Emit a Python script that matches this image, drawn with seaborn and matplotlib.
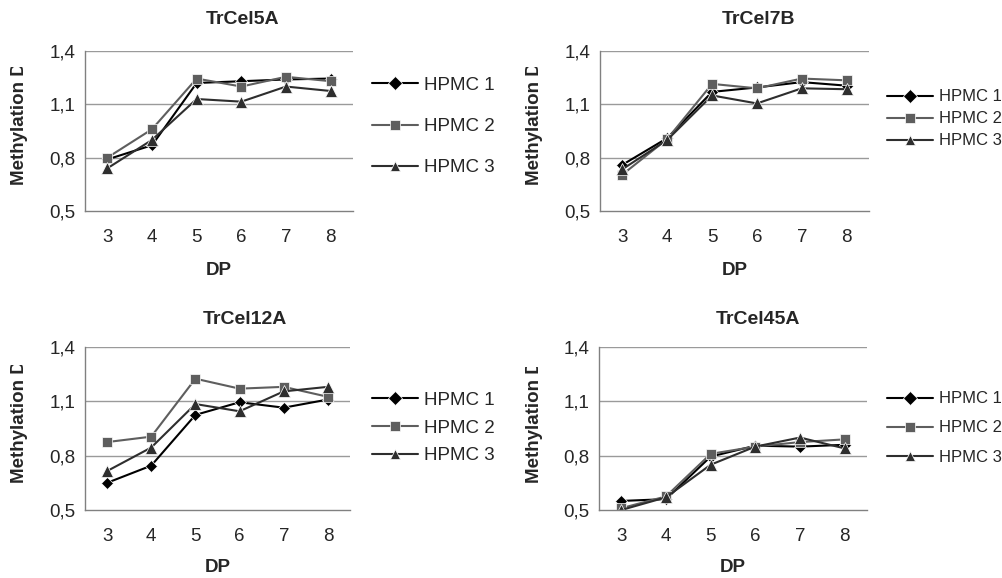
import matplotlib
matplotlib.use("Agg")
import matplotlib.pyplot as plt
import seaborn as sns
import pandas as pd
from matplotlib.transforms import Bbox
from matplotlib.ticker import FixedLocator, FuncFormatter

# ---- data ----
dp = [3, 4, 5, 6, 7, 8]
series_names = ["HPMC 1", "HPMC 2", "HPMC 3"]
panel_titles = ["TrCel5A", "TrCel7B", "TrCel12A", "TrCel45A"]

cel5a_hpmc1 = [0.79, 0.87, 1.22, 1.23, 1.24, 1.245]
cel5a_hpmc2 = [0.80, 0.96, 1.245, 1.20, 1.255, 1.23]
cel5a_hpmc3 = [0.74, 0.90, 1.13, 1.115, 1.20, 1.175]

cel7b_hpmc1 = [0.76, 0.91, 1.17, 1.195, 1.225, 1.205]
cel7b_hpmc2 = [0.705, 0.905, 1.215, 1.19, 1.245, 1.235]
cel7b_hpmc3 = [0.735, 0.90, 1.15, 1.105, 1.19, 1.185]

cel12a_hpmc1 = [0.65, 0.745, 1.025, 1.095, 1.065, 1.11]
cel12a_hpmc2 = [0.875, 0.905, 1.225, 1.17, 1.18, 1.125]
cel12a_hpmc3 = [0.715, 0.845, 1.085, 1.045, 1.155, 1.18]

cel45a_hpmc1 = [0.55, 0.56, 0.795, 0.855, 0.85, 0.86]
cel45a_hpmc2 = [0.51, 0.575, 0.81, 0.85, 0.875, 0.89]
cel45a_hpmc3 = [0.50, 0.57, 0.75, 0.85, 0.90, 0.84]

y_ticks = [0.5, 0.8, 1.1, 1.4]

panels = [
    [cel5a_hpmc1, cel5a_hpmc2, cel5a_hpmc3],
    [cel7b_hpmc1, cel7b_hpmc2, cel7b_hpmc3],
    [cel12a_hpmc1, cel12a_hpmc2, cel12a_hpmc3],
    [cel45a_hpmc1, cel45a_hpmc2, cel45a_hpmc3],
]

# ---- style ----
sns.set_style("white")
plt.rcParams["font.family"] = ["Liberation Sans", "DejaVu Sans"]

W, H = 1003, 578
fig = plt.figure(figsize=(W / 100, H / 100), dpi=100)

def fx(px):
    return px / W

def fy(py):
    return 1 - py / H

# axes boxes in pixels: left, right, top, bottom
boxes = [(85, 353, 51, 211), (600, 869, 51, 211), (85, 350, 347, 510), (599, 867, 347, 510)]
title_pos = [(243, 19), (759, 19), (245, 319), (758, 319)]
ylab_pos = [(20, 185, 67), (535, 185, 67), (20, 483, 365), (535, 483, 367)]
xlab_pos = [(219, 270), (735, 270), (218, 567), (733, 567)]
# handle x, centre y, label spacing, font size, handle length
leg_pos = [(372, 126.5, 1.29, 13.5, 2.45), (887, 119, 0.42, 12, 2.75),
           (372, 428, 0.57, 13.5, 2.45), (887, 428, 0.85, 12, 2.75)]

palette = {"HPMC 1": "#000000", "HPMC 2": "#5e5e5e", "HPMC 3": "#2e2e2e"}
markers = {"HPMC 1": "D", "HPMC 2": "s", "HPMC 3": "^"}
grid_c = "#9a9a9a"

for i, vals in enumerate(panels):
    l, r, t, b = boxes[i]
    ax = fig.add_axes([fx(l), fy(b), fx(r - l), (b - t) / H])
    rows = []
    for name, v in zip(series_names, vals):
        for d, y in zip(dp, v):
            rows.append({"DP": d, "value": y, "series": name})
    df = pd.DataFrame(rows)
    sns.lineplot(data=df, x="DP", y="value", hue="series", style="series",
                 markers=markers, dashes=False, palette=palette, ax=ax,
                 linewidth=1.5, markersize=7.5, markeredgewidth=0.5)
    for ln in ax.get_lines():
        if ln.get_marker() == "D":
            ln.set_markersize(6)
        elif ln.get_marker() == "^":
            ln.set_markersize(8.5)
    ax.set_xlim(2.5, 8.5)
    ax.set_ylim(0.5, 1.4)
    ax.set_xticks(dp)
    ax.xaxis.set_minor_locator(FixedLocator([2.5 + k for k in range(7)]))
    ax.tick_params(axis="x", which="major", length=0, pad=13, labelsize=13.5)
    ax.tick_params(axis="x", which="minor", length=4, color="#707070", width=1)
    ax.set_yticks(y_ticks)
    ax.yaxis.set_major_formatter(FuncFormatter(lambda v, p: f"{v:.1f}".replace(".", ",")))
    ax.tick_params(axis="y", length=4, color="#707070", width=1, labelsize=13.5, pad=3)
    for yv in y_ticks[1:]:
        ax.axhline(yv, color=grid_c, lw=1, zorder=0)
    for s in ["top", "right"]:
        ax.spines[s].set_visible(False)
    for s in ["left", "bottom"]:
        ax.spines[s].set_color("#808080")
        ax.spines[s].set_linewidth(1)
    ax.set_xlabel("")
    ax.set_ylabel("")

    # legend
    lx, ly, sp, fs, hl = leg_pos[i]
    sns.move_legend(ax, "center left", bbox_to_anchor=(fx(lx), fy(ly)),
                    bbox_transform=fig.transFigure, frameon=False, title=None,
                    fontsize=fs, handlelength=hl, handletextpad=0.35,
                    labelspacing=sp, borderpad=0, borderaxespad=0)

    # title
    tx, ty = title_pos[i]
    fig.text(fx(tx), fy(ty), panel_titles[i], ha="center", va="center",
             fontsize=14, fontweight="bold")
    # x label
    xx, xy = xlab_pos[i]
    fig.text(fx(xx), fy(xy), "DP", ha="center", va="center", fontsize=13.5,
             fontweight="bold")
    # y label (clipped like in the original)
    yx, ybot, ytop = ylab_pos[i]
    txt = fig.text(fx(yx), fy(ybot), "Methylation DS", rotation=90, ha="center",
                   va="bottom", fontsize=13.5, fontweight="bold")
    txt.set_clip_box(Bbox([[yx - 20, H - ybot - 10], [yx + 20, H - ytop]]))
    txt.set_clip_on(True)

fig.savefig("out.png", dpi=100)
